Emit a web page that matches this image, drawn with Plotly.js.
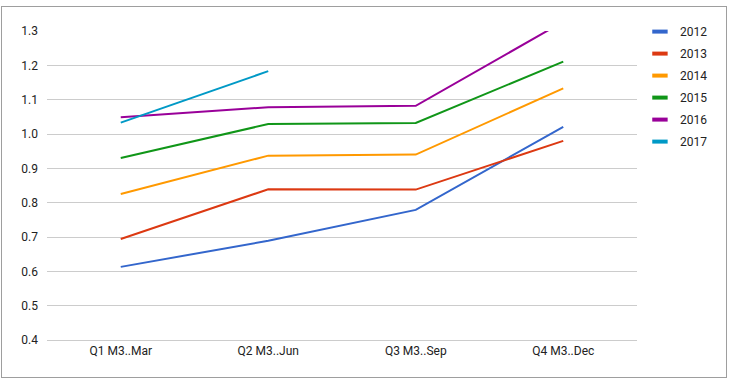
<!DOCTYPE html>
<html>
<head>
<meta charset="utf-8">
<script src="https://cdn.plot.ly/plotly-3.0.1.min.js"></script>
<style>
  html, body { margin: 0; padding: 0; background: #fff; }
  #wrap { position: relative; width: 732px; height: 383px; }
  #chart { position: absolute; left: 0; top: 0; width: 732px; height: 383px; }
  #frame { position: absolute; left: 1px; top: 6px; width: 724px; height: 370px; border: 1px solid #9e9e9e; pointer-events: none; }
</style>
</head>
<body>
<div id="wrap"><div id="chart"></div><div id="frame"></div></div>
<script>
const categories = ["Q1 M3..Mar", "Q2 M3..Jun", "Q3 M3..Sep", "Q4 M3..Dec"];
const seriesNames = ["2012", "2013", "2014", "2015", "2016", "2017"];
const v2012 = [0.613, 0.689, 0.779, 1.021];
const v2013 = [0.694, 0.839, 0.838, 0.980];
const v2014 = [0.825, 0.937, 0.940, 1.133];
const v2015 = [0.930, 1.029, 1.032, 1.211];
const v2016 = [1.049, 1.078, 1.082, 1.327];
const v2017 = [1.033, 1.183, null, null];
const colors = ["#3366cc", "#dc3912", "#ff9900", "#109618", "#990099", "#0099c6"];

const allValues = [v2012, v2013, v2014, v2015, v2016, v2017];
const traces = [];
allValues.forEach((vals, i) => {
  traces.push({
    type: "scatter",
    mode: "lines",
    x: categories,
    y: vals,
    name: seriesNames[i],
    showlegend: false,
    line: { color: colors[i], width: 2 },
    connectgaps: false,
    hoverinfo: "none"
  });
});
// legend entries (short thick swatches like the original)
allValues.forEach((vals, i) => {
  traces.push({
    type: "scatter",
    mode: "markers",
    x: [null],
    y: [null],
    name: seriesNames[i],
    legendgroup: seriesNames[i],
    showlegend: true,
    marker: { symbol: "line-ew", size: 11, color: colors[i], line: { color: colors[i], width: 4 } },
    hoverinfo: "none"
  });
});

const layout = {
  width: 732,
  height: 383,
  margin: { l: 47, r: 95, t: 31, b: 43 },
  paper_bgcolor: "#ffffff",
  plot_bgcolor: "#ffffff",
  font: { family: "Roboto, Arial, sans-serif", size: 12, color: "#444" },
  showlegend: true,
  legend: {
    x: 1.005, xanchor: "left",
    y: 1.045, yanchor: "top",
    traceorder: "grouped",
    tracegroupgap: 3,
    font: { family: "Roboto, Arial, sans-serif", size: 12, color: "#222" },
    bgcolor: "rgba(0,0,0,0)"
  },
  xaxis: {
    type: "category",
    range: [-0.5, 3.5],
    showgrid: false,
    zeroline: false,
    showline: true,
    linecolor: "#cccccc",
    linewidth: 1,
    ticks: "",
    tickfont: { size: 12, color: "#222" },
    fixedrange: true
  },
  yaxis: {
    range: [0.4, 1.3],
    dtick: 0.1,
    tick0: 0.4,
    tickformat: ".1f",
    showgrid: true,
    gridcolor: "#cccccc",
    gridwidth: 1,
    zeroline: false,
    showline: false,
    ticks: "",
    ticklabelstandoff: 8,
    tickfont: { size: 12, color: "#222" },
    fixedrange: true
  }
};

Plotly.newPlot("chart", traces, layout, { staticPlot: true, displayModeBar: false });
</script>
</body>
</html>
